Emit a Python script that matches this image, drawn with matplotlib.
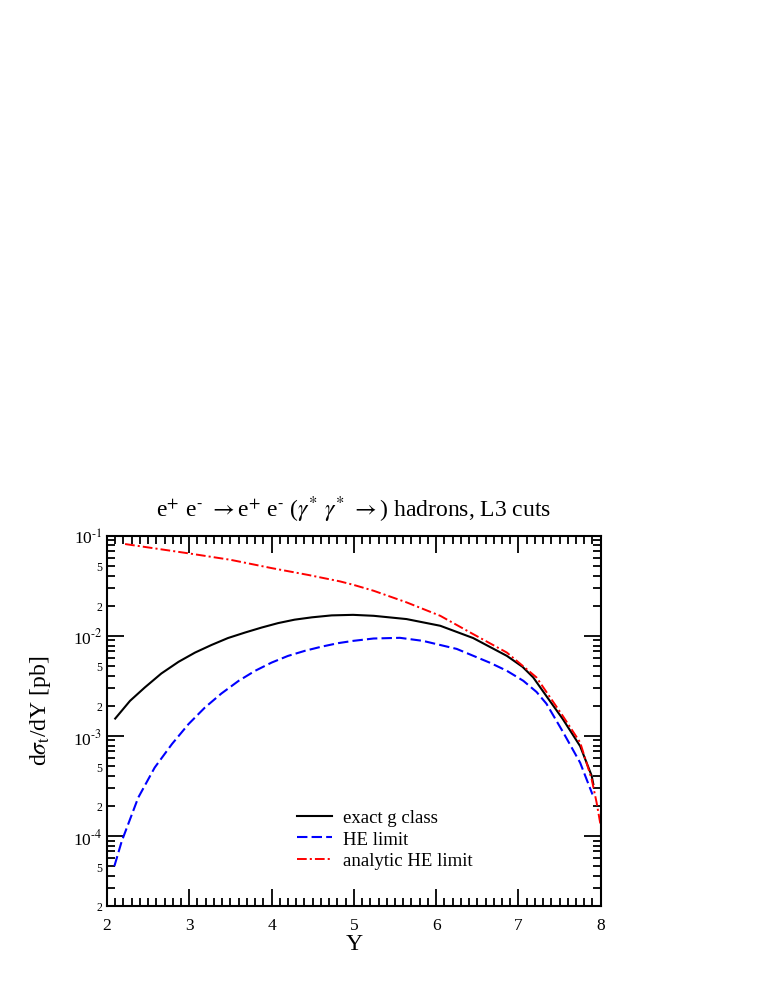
import numpy as np
import matplotlib
matplotlib.use("Agg")
import matplotlib.pyplot as plt
from matplotlib.ticker import FixedLocator, MultipleLocator, FuncFormatter

plt.rcParams['font.family'] = 'serif'
plt.rcParams['font.serif'] = ['Liberation Serif', 'DejaVu Serif']
plt.rcParams['mathtext.fontset'] = 'stix'
plt.rcParams['lines.scale_dashes'] = False

# exact g class (solid black)
y_exact = [2.10, 2.28, 2.46, 2.66, 2.87, 3.07, 3.27, 3.47, 3.68, 3.88, 4.08, 4.28,
           4.49, 4.73, 4.99, 5.24, 5.64, 6.05, 6.45, 6.86, 7.05, 7.18, 7.34, 7.54,
           7.75, 7.89, 7.91]
sig_exact = [1.49e-3, 2.24e-3, 3.05e-3, 4.2e-3, 5.5e-3, 6.8e-3, 8.1e-3, 9.5e-3,
             1.08e-2, 1.21e-2, 1.34e-2, 1.45e-2, 1.53e-2, 1.60e-2, 1.62e-2, 1.585e-2,
             1.47e-2, 1.26e-2, 9.5e-3, 6.3e-3, 4.9e-3, 3.84e-3, 2.5e-3, 1.47e-3,
             7.9e-4, 4.0e-4, 3.3e-4]

# HE limit (dashed blue)
y_he = [2.09, 2.18, 2.38, 2.58, 2.79, 2.99, 3.19, 3.39, 3.60, 3.80, 4.00, 4.20,
        4.41, 4.61, 4.81, 4.99, 5.24, 5.56, 5.84, 6.25, 6.65, 6.86, 7.06, 7.22,
        7.34, 7.54, 7.75, 7.90]
sig_he = [5.0e-5, 8.9e-5, 2.42e-4, 4.83e-4, 8.3e-4, 1.31e-3, 1.92e-3, 2.65e-3,
          3.55e-3, 4.47e-3, 5.4e-3, 6.3e-3, 7.1e-3, 7.8e-3, 8.45e-3, 8.9e-3,
          9.4e-3, 9.55e-3, 8.9e-3, 7.4e-3, 5.4e-3, 4.47e-3, 3.55e-3, 2.75e-3,
          2.1e-3, 1.1e-3, 5.4e-4, 2.6e-4]

# analytic HE limit (dash-dot red)
y_an = [2.22, 2.99, 3.5, 4.0, 4.45, 4.83, 4.99, 5.24, 5.64, 6.05, 6.45, 6.86, 7.22,
        7.34, 7.54, 7.75, 7.89, 7.95, 8.0]
sig_an = [8.26e-2, 6.67e-2, 5.75e-2, 4.75e-2, 4.05e-2, 3.5e-2, 3.24e-2, 2.82e-2,
          2.16e-2, 1.585e-2, 1.04e-2, 6.8e-3, 3.84e-3, 2.75e-3, 1.58e-3, 8.6e-4,
          3.7e-4, 2.16e-4, 1.26e-4]

fig = plt.figure(figsize=(7.63, 9.87), dpi=100)
ax = fig.add_axes([0.1402, 0.0811, 0.6471, 0.3751])

ax.plot(y_exact, sig_exact, color='black', lw=1.5, label='exact g class')
ax.plot(y_he, sig_he, color='blue', lw=1.5, dashes=(7.5, 3.0), label='HE limit')
ax.plot(y_an, sig_an, color='red', lw=1.4, dashes=(7.0, 2.2, 1.5, 2.2),
        label='analytic HE limit')

ax.set_yscale('log')
ax.set_xlim(2, 8)
ax.set_ylim(2e-5, 1e-1)

ax.xaxis.set_major_locator(MultipleLocator(1))
ax.xaxis.set_minor_locator(MultipleLocator(0.1))

majors = [1e-4, 1e-3, 1e-2, 1e-1]
minors = [m * 10.0 ** e for e in range(-5, -1) for m in range(2, 10)]
minors = [v for v in minors if 2e-5 * 0.999 <= v <= 1e-1]
ax.yaxis.set_major_locator(FixedLocator(majors))
ax.yaxis.set_minor_locator(FixedLocator(minors))


def major_fmt(v, pos):
    return r'10$^{\text{-}%d}$' % abs(int(round(np.log10(v))))


def minor_fmt(v, pos):
    m = v / 10.0 ** np.floor(np.log10(v) + 1e-9)
    m = int(round(m))
    return str(m) if m in (2, 5) else ''


ax.yaxis.set_major_formatter(FuncFormatter(major_fmt))
ax.yaxis.set_minor_formatter(FuncFormatter(minor_fmt))

ax.tick_params(which='both', direction='in', top=True, right=True, width=1.3)
ax.tick_params(which='major', length=12, labelsize=12.5)
ax.tick_params(which='minor', length=6)
ax.tick_params(axis='y', which='minor', labelsize=8.5)
ax.tick_params(axis='x', which='major', pad=8)
for s in ax.spines.values():
    s.set_linewidth(1.5)

ax.set_xlabel('Y', fontsize=17, labelpad=0)
ax.set_ylabel(r'd$\sigma_{\rm t}$/dY [pb]', fontsize=17)
ax.yaxis.set_label_coords(-0.11, 0.53)
ax.set_title(r'e$^{+}$ e$^{\text{-}}$ $\rightarrow$e$^{+}$ e$^{\text{-}}$ ($\gamma^{*}$ $\gamma^{*}$ $\rightarrow$) hadrons, L3 cuts',
             fontsize=17, pad=14)

ax.legend(loc='upper left', bbox_to_anchor=(0.384, 0.262), frameon=False,
          fontsize=13.5, handlelength=1.9, handletextpad=0.6, labelspacing=0.24,
          borderpad=0, borderaxespad=0)

fig.savefig('out.png', dpi=100)
